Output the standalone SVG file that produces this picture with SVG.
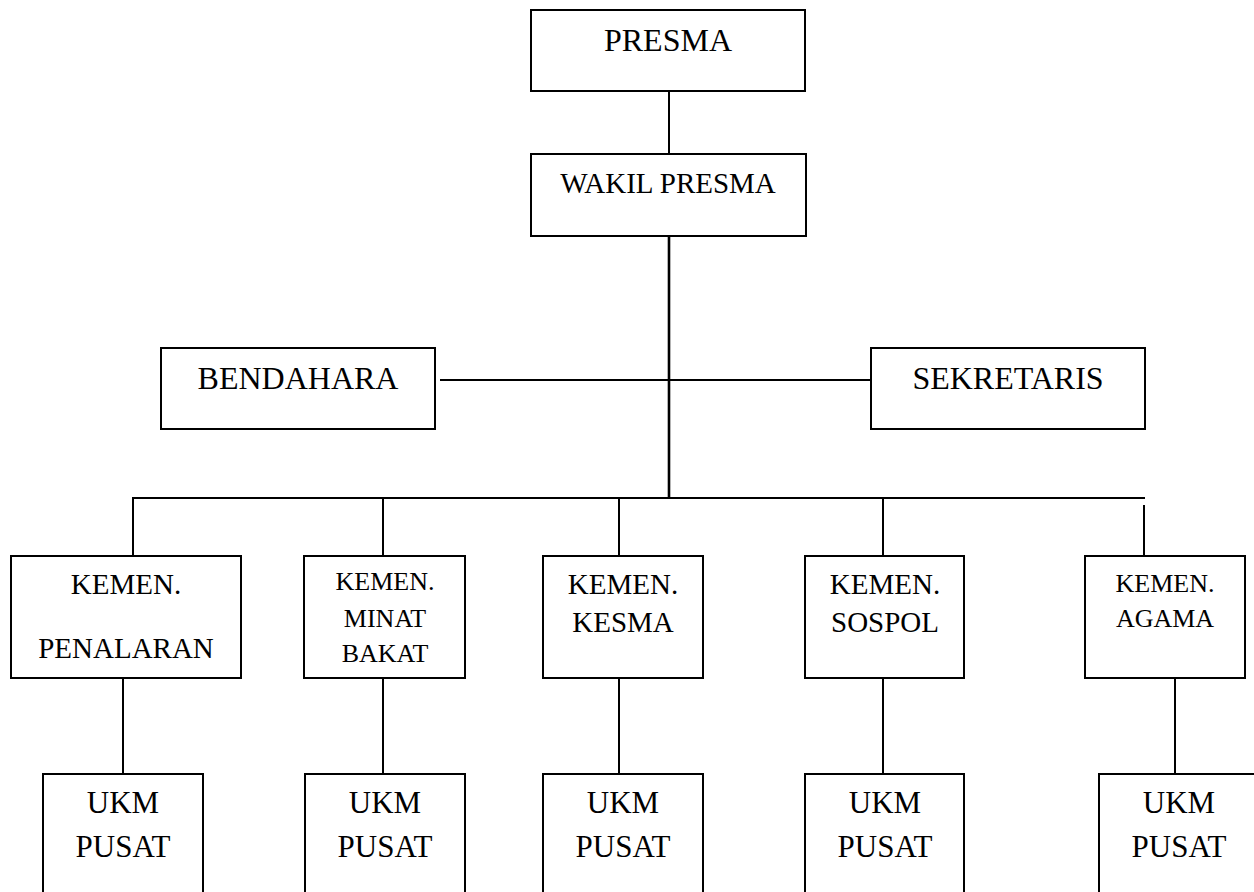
<svg xmlns="http://www.w3.org/2000/svg" width="1254" height="892" viewBox="0 0 1254 892">
  <style>
    .box { fill: #ffffff; stroke: #000000; stroke-width: 2; }
    .wire { stroke: #000000; stroke-width: 2; fill: none; }
    .trunk { stroke: #000000; stroke-width: 2.6; fill: none; }
    text { font-family: "Liberation Serif", "Times New Roman", serif; fill: #000000; text-anchor: middle; }
    .t32 { font-size: 32px; }
    .t29 { font-size: 29px; }
    .t26 { font-size: 26px; }
    .t31 { font-size: 31px; }
  </style>
  <rect width="1254" height="892" fill="#ffffff"/>

  <!-- connectors -->
  <g id="connectors">
    <line class="wire" x1="669" y1="91" x2="669" y2="154"/>
    <line class="trunk" x1="669" y1="236" x2="669" y2="498"/>
    <line class="wire" x1="440" y1="380" x2="870" y2="380"/>
    <line class="wire" x1="132" y1="498" x2="1145" y2="498"/>
    <line class="wire" x1="133" y1="498" x2="133" y2="556"/>
    <line class="wire" x1="383" y1="498" x2="383" y2="556"/>
    <line class="wire" x1="619" y1="498" x2="619" y2="556"/>
    <line class="wire" x1="883" y1="498" x2="883" y2="556"/>
    <line class="wire" x1="1144" y1="505" x2="1144" y2="556"/>
    <line class="wire" x1="123" y1="678" x2="123" y2="774"/>
    <line class="wire" x1="383" y1="678" x2="383" y2="774"/>
    <line class="wire" x1="619" y1="678" x2="619" y2="774"/>
    <line class="wire" x1="883" y1="678" x2="883" y2="774"/>
    <line class="wire" x1="1175" y1="678" x2="1175" y2="774"/>
  </g>

  <!-- top leadership -->
  <g id="presma">
    <rect class="box" x="531" y="10" width="274" height="81"/>
    <text class="t32" x="668" y="51">PRESMA</text>
  </g>
  <g id="wakil-presma">
    <rect class="box" x="531" y="154" width="275" height="82"/>
    <text class="t29" x="668" y="193">WAKIL PRESMA</text>
  </g>
  <g id="bendahara">
    <rect class="box" x="161" y="348" width="274" height="81"/>
    <text class="t32" x="298" y="389">BENDAHARA</text>
  </g>
  <g id="sekretaris">
    <rect class="box" x="871" y="348" width="274" height="81"/>
    <text class="t32" x="1008" y="389">SEKRETARIS</text>
  </g>

  <!-- ministries -->
  <g id="kemen-penalaran">
    <rect class="box" x="11" y="556" width="230" height="122"/>
    <text class="t29" x="126" y="594">KEMEN.</text>
    <text class="t29" x="126" y="658">PENALARAN</text>
  </g>
  <g id="kemen-minat-bakat">
    <rect class="box" x="304" y="556" width="161" height="122"/>
    <text class="t26" x="385" y="590">KEMEN.</text>
    <text class="t26" x="385" y="627">MINAT</text>
    <text class="t26" x="385" y="662">BAKAT</text>
  </g>
  <g id="kemen-kesma">
    <rect class="box" x="543" y="556" width="160" height="122"/>
    <text class="t29" x="623" y="594">KEMEN.</text>
    <text class="t29" x="623" y="632">KESMA</text>
  </g>
  <g id="kemen-sospol">
    <rect class="box" x="805" y="556" width="159" height="122"/>
    <text class="t29" x="885" y="594">KEMEN.</text>
    <text class="t29" x="885" y="632">SOSPOL</text>
  </g>
  <g id="kemen-agama">
    <rect class="box" x="1085" y="556" width="160" height="122"/>
    <text class="t26" x="1165" y="592">KEMEN.</text>
    <text class="t26" x="1165" y="627">AGAMA</text>
  </g>

  <!-- student activity units -->
  <g id="ukm-1">
    <rect class="box" x="43" y="774" width="160" height="130"/>
    <text class="t31" x="123" y="813">UKM</text>
    <text class="t31" x="123" y="857">PUSAT</text>
  </g>
  <g id="ukm-2">
    <rect class="box" x="305" y="774" width="160" height="130"/>
    <text class="t31" x="385" y="813">UKM</text>
    <text class="t31" x="385" y="857">PUSAT</text>
  </g>
  <g id="ukm-3">
    <rect class="box" x="543" y="774" width="160" height="130"/>
    <text class="t31" x="623" y="813">UKM</text>
    <text class="t31" x="623" y="857">PUSAT</text>
  </g>
  <g id="ukm-4">
    <rect class="box" x="805" y="774" width="159" height="130"/>
    <text class="t31" x="885" y="813">UKM</text>
    <text class="t31" x="885" y="857">PUSAT</text>
  </g>
  <g id="ukm-5">
    <rect class="box" x="1099" y="774" width="160" height="130"/>
    <text class="t31" x="1179" y="813">UKM</text>
    <text class="t31" x="1179" y="857">PUSAT</text>
  </g>
</svg>
